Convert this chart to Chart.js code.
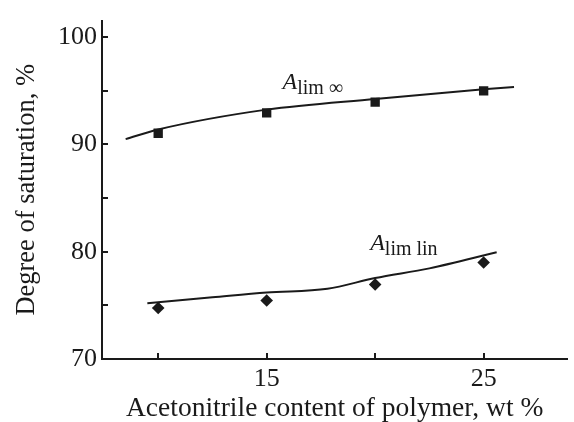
<!DOCTYPE html>
<html>
<head>
<meta charset="utf-8">
<script src="https://cdn.jsdelivr.net/npm/chart.js@4"></script>
<style>
  html, body { margin: 0; padding: 0; background: #fff; }
  #wrap { position: relative; width: 574px; height: 422px; }
</style>
</head>
<body>
<div id="wrap"><canvas id="satChart"></canvas></div>
<script>
// measured points
const acetonitrile = [10, 15, 20, 25];
const limInfPoints = [91.05, 92.95, 93.95, 95.0];
const limLinPoints = [74.75, 75.45, 76.95, 79.0];

// fitted curves
const limInfCurveX = [8.5, 10, 15, 20, 25, 26.4];
const limInfCurveY = [90.5, 91.4, 93.25, 94.25, 95.15, 95.35];
const limLinCurveX = [9.5, 12.5, 15, 17.8, 20, 22.5, 25.6];
const limLinCurveY = [75.2, 75.75, 76.2, 76.55, 77.55, 78.45, 79.95];

const xTicks = [10, 15, 20, 25];
const xTickLabels = [15, 25];
const yTicks = [70, 75, 80, 85, 90, 95, 100];
const yTickLabels = [70, 80, 90, 100];

const ink = "#1a1a1a";
const serif = "'Liberation Serif', 'Times New Roman', serif";

const toXY = (xs, ys) => xs.map((x, i) => ({ x: x, y: ys[i] }));

// curve labels: anchor in data units
const curveLabels = [
  { main: "A", sub: "lim \u221e", x: 15.73, y: 95.16 },
  { main: "A", sub: "lim lin", x: 19.77, y: 80.2 },
];

const extras = {
  id: "extras",
  afterDatasetsDraw(chart) {
    const { ctx, chartArea, scales } = chart;
    ctx.save();
    ctx.strokeStyle = ink;
    ctx.lineWidth = 2;
    ctx.beginPath();
    xTicks.forEach((v) => {
      const px = Math.round(scales.x.getPixelForValue(v));
      ctx.moveTo(px, chartArea.bottom);
      ctx.lineTo(px, chartArea.bottom - 6);
    });
    yTicks.forEach((v) => {
      const py = Math.round(scales.y.getPixelForValue(v));
      ctx.moveTo(chartArea.left, py);
      ctx.lineTo(chartArea.left + 6, py);
    });
    ctx.stroke();

    ctx.fillStyle = ink;
    ctx.textBaseline = "alphabetic";
    ctx.textAlign = "left";
    curveLabels.forEach((l) => {
      const px = scales.x.getPixelForValue(l.x);
      const py = scales.y.getPixelForValue(l.y);
      ctx.font = "italic 24px " + serif;
      ctx.fillText(l.main, px, py);
      const w = ctx.measureText(l.main).width;
      ctx.font = "20px " + serif;
      ctx.fillText(l.sub, px + w, py + 5);
    });
    ctx.restore();
  },
};

new Chart(document.getElementById("satChart"), {
  type: "scatter",
  data: {
    datasets: [
      {
        type: "line",
        data: toXY(limInfCurveX, limInfCurveY),
        borderColor: ink,
        borderWidth: 2,
        pointRadius: 0,
        cubicInterpolationMode: "monotone",
        fill: false,
      },
      {
        type: "line",
        data: toXY(limLinCurveX, limLinCurveY),
        borderColor: ink,
        borderWidth: 2,
        pointRadius: 0,
        cubicInterpolationMode: "monotone",
        fill: false,
      },
      {
        data: toXY(acetonitrile, limInfPoints),
        pointStyle: "rect",
        pointRadius: 6.6,
        backgroundColor: ink,
        borderColor: ink,
        borderWidth: 0,
      },
      {
        data: toXY(acetonitrile, limLinPoints),
        pointStyle: "rectRot",
        pointRadius: 6.3,
        backgroundColor: ink,
        borderColor: ink,
        borderWidth: 0,
      },
    ],
  },
  options: {
    responsive: true,
    maintainAspectRatio: false,
    animation: false,
    events: [],
    layout: { padding: { top: 13, right: 0, left: 0, bottom: 0 } },
    plugins: { legend: { display: false }, tooltip: { enabled: false } },
    scales: {
      x: {
        type: "linear",
        min: 7.41,
        max: 28.86,
        afterBuildTicks: (s) => { s.ticks = xTicks.map((v) => ({ value: v })); },
        afterFit: (s) => { s.height = 63; },
        grid: { display: false, drawTicks: false },
        border: { display: true, color: ink, width: 2 },
        ticks: {
          padding: 5,
          color: ink,
          font: { family: serif, size: 26 },
          callback: (v) => (xTickLabels.includes(v) ? String(v) : ""),
        },
        title: {
          display: true,
          text: "Acetonitrile content of polymer, wt %",
          color: ink,
          font: { family: serif, size: 27.5, lineHeight: 1 },
          padding: { top: 0, bottom: -1 },
        },
      },
      y: {
        type: "linear",
        min: 70,
        max: 101.55,
        afterBuildTicks: (s) => { s.ticks = yTicks.map((v) => ({ value: v })); },
        afterFit: (s) => { s.width = 102; },
        grid: { display: false, drawTicks: false },
        border: { display: true, color: ink, width: 2 },
        ticks: {
          padding: 5,
          color: ink,
          font: { family: serif, size: 26 },
          callback: (v) => (yTickLabels.includes(v) ? String(v) : ""),
        },
        title: {
          display: true,
          text: "Degree of saturation, %",
          color: ink,
          font: { family: serif, size: 26.5, lineHeight: 1 },
          padding: { top: 14, bottom: 0 },
        },
      },
    },
  },
  plugins: [extras],
});
</script>
</body>
</html>
